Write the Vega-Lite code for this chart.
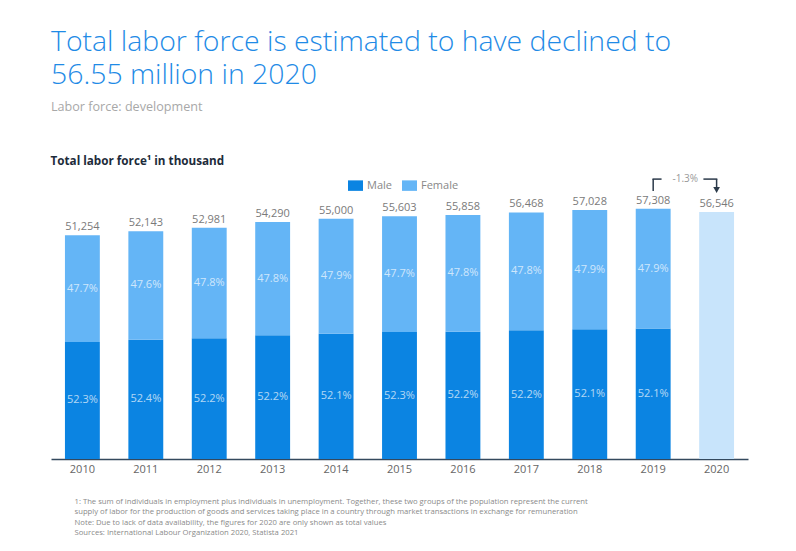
{
  "$schema": "https://vega.github.io/schema/vega-lite/v6.json",
  "width": 697,
  "height": 262,
  "autosize": {"type": "none"},
  "padding": {"left": 51, "top": 197, "right": 48, "bottom": 92},
  "background": "white",
  "config": {"view": {"stroke": null}, "font": "Open Sans"},
  "title": {
    "text": ["Total labor force is estimated to have declined to", "56.55 million in 2020"],
    "subtitle": "Labor force: development",
    "anchor": "start",
    "frame": "group",
    "offset": 40,
    "font": "Open Sans",
    "fontSize": 28.4,
    "fontWeight": 300,
    "color": "#1f8be6",
    "lineHeight": 33,
    "subtitleFont": "Open Sans",
    "subtitleFontSize": 12.6,
    "subtitleColor": "#a8a8a8",
    "subtitlePadding": 11
  },
  "datasets": {
    "main": [
      {"year": "2010", "sex": "Male", "value": 26806, "pct": 0.523},
      {"year": "2010", "sex": "Female", "value": 24448, "pct": 0.477},
      {"year": "2011", "sex": "Male", "value": 27323, "pct": 0.524},
      {"year": "2011", "sex": "Female", "value": 24820, "pct": 0.476},
      {"year": "2012", "sex": "Male", "value": 27656, "pct": 0.522},
      {"year": "2012", "sex": "Female", "value": 25325, "pct": 0.478},
      {"year": "2013", "sex": "Male", "value": 28339, "pct": 0.522},
      {"year": "2013", "sex": "Female", "value": 25951, "pct": 0.478},
      {"year": "2014", "sex": "Male", "value": 28655, "pct": 0.521},
      {"year": "2014", "sex": "Female", "value": 26345, "pct": 0.479},
      {"year": "2015", "sex": "Male", "value": 29080, "pct": 0.523},
      {"year": "2015", "sex": "Female", "value": 26523, "pct": 0.477},
      {"year": "2016", "sex": "Male", "value": 29158, "pct": 0.522},
      {"year": "2016", "sex": "Female", "value": 26700, "pct": 0.478},
      {"year": "2017", "sex": "Male", "value": 29476, "pct": 0.522},
      {"year": "2017", "sex": "Female", "value": 26992, "pct": 0.478},
      {"year": "2018", "sex": "Male", "value": 29712, "pct": 0.521},
      {"year": "2018", "sex": "Female", "value": 27316, "pct": 0.479},
      {"year": "2019", "sex": "Male", "value": 29857, "pct": 0.521},
      {"year": "2019", "sex": "Female", "value": 27451, "pct": 0.479},
      {"year": "2020", "sex": "Total", "value": 56546, "pct": null}
    ],
    "note": [{"from": "2019", "to": "2020", "label": "-1.3%"}]
  },
  "layer": [
    {
      "data": {"name": "main"},
      "mark": {"type": "bar"},
      "encoding": {
        "x": {
          "field": "year", "type": "nominal",
          "scale": {"domain": ["2010","2011","2012","2013","2014","2015","2016","2017","2018","2019","2020"], "paddingInner": 0.45, "paddingOuter": 0.22},
          "axis": {
            "labelAngle": 0, "ticks": false, "labelPadding": 4, "labelColor": "#666666", "labelFontSize": 11,
            "domainColor": "#34495e", "domainWidth": 1.5, "grid": false,
            "title": ["1: The sum of individuals in employment plus individuals in unemployment. Together, these two groups of the population represent the current", "supply of labor for the production of goods and services taking place in a country through market transactions in exchange for remuneration", "Note: Due to lack of data availability, the figures for 2020 are only shown as total values", "Sources: International Labour Organization 2020, Statista 2021"],
            "titleFont": "Open Sans",
            "titleFontSize": 7.7,
            "titleFontWeight": "normal",
            "titleColor": "#8a8a8a",
            "titleLineHeight": 10.5,
            "titleAlign": "left",
            "titleAnchor": "start",
            "titleBaseline": "top",
            "titleX": 23,
            "titleY": 38
          }
        },
        "y": {
          "field": "value", "type": "quantitative", "stack": "zero",
          "scale": {"domain": [0, 60000]},
          "axis": {
            "labels": false, "ticks": false, "domain": false, "grid": false,
            "title": "Total labor force¹ in thousand",
            "titleAngle": 0, "titleAlign": "left", "titleBaseline": "middle",
            "titleX": -1, "titleY": -37,
            "titleFontSize": 11.7, "titleFontWeight": "bold", "titleColor": "#1d2b3a"
          }
        },
        "color": {
          "field": "sex", "type": "nominal",
          "scale": {"domain": ["Male", "Female", "Total"], "range": ["#0b84e2", "#64b5f6", "#c8e4fb"]},
          "legend": {
            "values": ["Male", "Female"], "title": null, "orient": "none",
            "legendX": 297, "legendY": -19, "direction": "horizontal", "padding": 0,
            "symbolType": "M-1,-0.7H1V0.7H-1Z", "symbolSize": 225, "symbolStrokeWidth": 0, "symbolOpacity": 1,
            "labelColor": "#888888", "labelFontSize": 11, "labelOffset": 4, "columnPadding": 10
          }
        },
        "order": {"field": "sex", "sort": "descending"}
      }
    },
    {
      "data": {"name": "main"},
      "transform": [{"filter": "datum.sex !== 'Total'"}],
      "mark": {"type": "text", "color": "#ffffff", "opacity": 0.68, "fontSize": 11, "baseline": "middle"},
      "encoding": {
        "x": {"field": "year", "type": "nominal"},
        "y": {"field": "value", "type": "quantitative", "stack": "zero", "bandPosition": 0.5},
        "detail": {"field": "sex"},
        "order": {"field": "sex", "sort": "descending"},
        "text": {"field": "pct", "type": "quantitative", "format": ".1%"}
      }
    },
    {
      "data": {"name": "main"},
      "mark": {"type": "text", "color": "#7a7a7a", "fontSize": 11, "baseline": "bottom", "dy": -3},
      "encoding": {
        "x": {"field": "year", "type": "nominal"},
        "y": {"aggregate": "sum", "field": "value", "type": "quantitative"},
        "text": {"aggregate": "sum", "field": "value", "type": "quantitative", "format": ","}
      }
    },
    {
      "data": {"name": "note"},
      "mark": {"type": "rule", "color": "#2b3a4a", "strokeWidth": 1.5},
      "encoding": {
        "x": {"field": "from", "type": "nominal"},
        "y": {"datum": 61400},
        "y2": {"datum": 64100}
      }
    },
    {
      "data": {"name": "note"},
      "mark": {"type": "rule", "color": "#2b3a4a", "strokeWidth": 1.5},
      "encoding": {
        "x": {"field": "from", "type": "nominal", "bandPosition": 0.48},
        "x2": {"field": "from", "bandPosition": 0.74},
        "y": {"datum": 64100}
      }
    },
    {
      "data": {"name": "note"},
      "mark": {"type": "rule", "color": "#2b3a4a", "strokeWidth": 1.5},
      "encoding": {
        "x": {"field": "from", "type": "nominal", "bandPosition": 1.94},
        "x2": {"field": "to", "bandPosition": 0.52},
        "y": {"datum": 64100}
      }
    },
    {
      "data": {"name": "note"},
      "mark": {"type": "rule", "color": "#2b3a4a", "strokeWidth": 1.5},
      "encoding": {
        "x": {"field": "to", "type": "nominal"},
        "y": {"datum": 61900},
        "y2": {"datum": 64100}
      }
    },
    {
      "data": {"name": "note"},
      "mark": {"type": "point", "shape": "triangle-down", "filled": true, "color": "#2b3a4a", "size": 45, "opacity": 1},
      "encoding": {
        "x": {"field": "to", "type": "nominal"},
        "y": {"datum": 61600}
      }
    },
    {
      "data": {"name": "note"},
      "mark": {"type": "text", "color": "#999999", "fontSize": 10, "baseline": "middle", "align": "center"},
      "encoding": {
        "x": {"field": "from", "type": "nominal", "bandPosition": 1.42},
        "y": {"datum": 64100},
        "text": {"field": "label"}
      }
    }
  ]
}
